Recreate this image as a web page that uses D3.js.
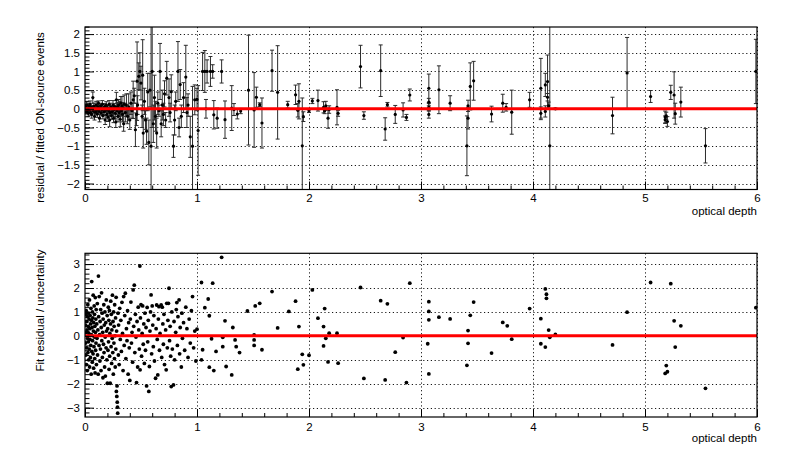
<!DOCTYPE html>
<html>
<head>
<meta charset="utf-8">
<script src="https://cdn.jsdelivr.net/npm/d3@7"></script>
<style>
  body { margin: 0; background: #fff; }
  svg text { font-family: "Liberation Sans", Arial, Helvetica, sans-serif; }
</style>
</head>
<body>
<script>
"use strict";

// ---- data ----

// ticks
const xTicks = [0, 1, 2, 3, 4, 5, 6];
const topYTicks = [-2, -1.5, -1, -0.5, 0, 0.5, 1, 1.5, 2];
const bottomYTicks = [-3, -2, -1, 0, 1, 2, 3];

// top panel: [optical depth, residual / fitted, error]
const topNear = [
  [0.005,0.05,0.08],[0.01,-0.08,0.06],[0.015,0.1,0.1],[0.02,-0.05,0.05],[0.025,0.0,0.07],
  [0.03,-0.12,0.08],[0.035,0.08,0.06],[0.04,-0.02,0.05],[0.045,0.12,0.09],[0.05,-0.1,0.07],
  [0.055,0.04,0.05],[0.06,-0.15,0.1],[0.065,0.02,0.04],[0.07,0.3,0.15],[0.075,-0.06,0.06],
  [0.08,0.07,0.08],[0.085,-0.2,0.1],[0.09,0.0,0.05],[0.095,-0.09,0.07],[0.1,0.1,0.1],
  [0.105,-0.03,0.05],[0.11,-0.14,0.09],[0.115,0.05,0.06],[0.12,0.15,0.06],[0.125,-0.07,0.07],
  [0.13,-0.25,0.1],[0.135,0.02,0.05],[0.14,0.08,0.07],[0.145,-0.11,0.08],[0.15,-0.02,0.06],
  [0.155,0.12,0.1],[0.16,-0.18,0.09],[0.165,0.0,0.05],[0.17,-0.08,0.07],[0.175,0.06,0.08],
  [0.18,-0.3,0.12],[0.185,-0.04,0.06],[0.19,0.1,0.09],[0.195,-0.15,0.1],[0.2,0.03,0.06],
  [0.205,-0.22,0.12],[0.21,-0.05,0.07],[0.215,0.12,0.1],[0.22,-0.3,0.18],[0.225,-0.1,0.08],
  [0.23,0.05,0.1],[0.235,-0.18,0.1],[0.24,0.0,0.07],[0.245,-0.08,0.12],[0.25,0.1,0.12],
  [0.255,-0.25,0.12],[0.26,-0.02,0.1],[0.265,0.06,0.08],[0.27,-0.12,0.15],[0.275,-0.35,0.15],
  [0.28,0.24,0.2],[0.285,-0.05,0.1],[0.29,0.05,0.12],[0.295,-0.2,0.15],[0.3,0.1,0.15],
  [0.305,-0.1,0.12],[0.31,0.0,0.2],[0.315,-0.28,0.2],[0.32,0.15,0.18],[0.325,-0.05,0.1],
  [0.33,0.08,0.25],[0.335,-0.15,0.2],[0.34,0.02,0.15],[0.345,-0.4,0.2],[0.35,0.12,0.25],
  [0.36,-0.1,0.25],[0.37,0.1,0.3],[0.38,-0.2,0.2],[0.39,0.05,0.35],[0.4,-0.3,0.25],
  [0.41,0.15,0.3],[0.42,-0.05,0.2],[0.43,0.24,0.5],[0.44,0.35,0.2],[0.45,-0.56,0.45],
  [0.46,-0.15,0.3],[0.465,0.74,1.05],[0.47,0.1,0.25],[0.48,0.87,0.36],[0.49,1.0,0.5],
  [0.5,0.69,0.45],[0.51,-0.2,0.3],[0.515,0.9,0.95],[0.52,-0.65,0.4],[0.53,0.2,0.35],
  [0.54,-0.3,0.25],[0.55,-0.6,0.35],[0.56,0.45,0.5],[0.57,-0.9,0.6],[0.58,0.5,0.45],
  [0.59,-1.0,3.5],[0.6,1.0,1.5],[0.61,-0.4,0.5],[0.62,0.3,0.6],[0.63,-0.2,0.4],
  [0.64,-0.65,0.4],[0.65,0.15,0.3],[0.66,-0.05,0.15],[0.67,1.0,0.75],[0.68,-0.4,0.35],
  [0.69,0.1,0.4],[0.7,-0.15,0.3],[0.71,0.4,0.35],[0.72,-0.3,0.2],[0.73,0.82,0.45],
  [0.75,0.3,0.5],[0.76,-0.1,0.25],[0.77,0.46,0.45],[0.79,-1.0,0.3],[0.8,-0.3,0.4],
  [0.81,0.2,0.25],[0.83,1.0,0.8],[0.84,-0.5,0.25],[0.85,0.65,0.4],[0.86,-0.2,0.3],
  [0.88,0.3,0.4],[0.9,0.85,0.85],[0.91,-0.1,0.4],[0.92,0.1,0.3],[0.94,-0.75,0.55],
  [0.96,-1.0,1.6],[0.98,0.24,0.4],[1.0,0.25,0.3],[1.01,-0.58,1.2],[1.05,1.0,0.51],
  [1.07,1.0,0.56],[1.08,0.0,0.25],[1.09,1.0,0.31],[1.12,1.0,0.4],[1.14,1.0,0.18],
  [1.15,-0.16,0.38],[1.18,-0.25,0.27],[1.22,1.0,0.31],[1.25,-0.29,0.5],[1.31,0.02,0.6],
  [1.33,-0.02,0.16],[1.36,-0.14,0.13],[1.39,-0.06,0.07],[1.46,0.5,1.47]
];

const topFar = [
  [1.51,-0.03,1.0],[1.53,0.31,0.27],[1.56,0.11,0.05],[1.58,-0.38,0.67],[1.67,1.02,0.55],
  [1.72,0.44,1.25],[1.81,0.11,0.09],[1.88,0.375,0.26],[1.9,-0.04,0.18],[1.91,0.2,0.47],
  [1.94,-0.99,1.28],[1.95,-0.21,0.13],[2.0,-0.05,0.05],[2.03,0.21,0.07],[2.08,0.22,0.28],
  [2.13,0.04,0.15],[2.14,-0.05,0.08],[2.15,0.08,0.12],[2.17,-0.25,0.27],[2.18,-0.02,0.1],
  [2.25,0.04,0.47],[2.26,-0.12,0.08],[2.46,1.13,0.57],[2.49,-0.18,0.1],[2.64,1.02,0.69],
  [2.68,-0.54,0.3],[2.7,0.11,0.06],[2.77,-0.15,0.24],[2.84,-0.03,0.19],[2.87,-0.23,0.08],
  [2.9,0.37,0.16],[3.07,0.55,0.38],[3.07,0.18,0.1],[3.07,0.04,0.1],[3.07,-0.15,0.1],
  [3.16,0.51,0.64],[3.26,0.15,0.2],[3.41,-0.99,0.8],[3.42,-0.25,0.29],[3.42,0.08,0.15],
  [3.44,0.6,0.63],[3.47,0.75,0.52],[3.63,-0.14,0.21],[3.73,0.15,0.24],[3.76,0.04,0.1],
  [3.81,-0.09,0.59],[3.97,0.24,0.2],[4.07,0.55,0.8],[4.07,-0.12,0.17],[4.11,0.64,0.31],
  [4.11,-0.07,0.15],[4.13,0.73,0.71],[4.13,0.31,0.1],[4.14,0.08,0.1],[4.15,-0.99,4.0],
  [4.2,0.0,0.02],[4.71,-0.18,0.49],[4.84,0.96,0.95],[5.05,0.33,0.16],[5.18,-0.22,0.16],
  [5.18,-0.29,0.1],[5.19,-0.19,0.1],[5.2,-0.34,0.13],[5.23,0.44,0.19],[5.26,0.37,0.62],
  [5.27,-0.13,0.28],[5.32,0.18,0.4],[5.54,-0.99,0.46],[5.99,1.0,0.86]
];

// bottom panel: [optical depth, residual / uncertainty]
const bottomNear = [
  [0.003,0.45],[0.005,-0.3],[0.006,0.9],[0.008,-0.8],[0.01,0.15],[0.011,1.05],[0.013,-1.2],
  [0.014,0.6],[0.016,-0.5],[0.018,0.25],[0.02,-1.45],[0.021,0.8],[0.023,-0.1],[0.025,1.3],
  [0.026,-0.7],[0.028,0.4],[0.03,-0.25],[0.031,0.95],[0.033,-1.0],[0.035,0.1],[0.036,0.7],
  [0.038,-0.55],[0.04,1.5],[0.041,-1.3],[0.043,0.3],[0.045,-0.15],[0.046,0.85],[0.048,-0.9],
  [0.05,0.5],[0.052,-0.4],[0.053,1.15],[0.055,-1.6],[0.057,0.05],[0.058,0.65],[0.06,2.27],
  [0.061,-0.65],[0.063,0.35],[0.065,-1.1],[0.066,1.0],[0.068,-0.2],[0.07,0.75],[0.072,-0.75],
  [0.073,1.7],[0.075,0.2],[0.077,-1.35],[0.078,0.55],[0.08,-0.45],[0.082,1.25],[0.083,-0.05],
  [0.085,0.9],[0.087,-0.95],[0.088,0.4],[0.09,-1.55],[0.092,1.6],[0.093,0.15],[0.095,-0.6],
  [0.097,0.7],[0.098,-0.3],[0.1,1.1],
  [0.102,-1.2],[0.105,0.5],[0.107,-0.1],[0.11,1.35],[0.112,-0.8],[0.115,0.25],[0.118,-1.6],
  [0.12,2.5],[0.122,0.8],[0.125,-0.4],[0.127,1.64],[0.13,0.05],[0.133,-1.05],[0.135,0.6],
  [0.138,-0.55],[0.14,1.1],[0.143,-1.45],[0.145,0.35],[0.148,1.8],[0.15,-0.2],[0.153,0.95],
  [0.155,-0.9],[0.158,0.15],[0.16,-1.75],[0.162,0.7],[0.165,-0.35],[0.168,1.3],[0.17,-0.7],
  [0.172,0.45],[0.175,-1.3],[0.178,1.0],[0.18,-0.05],[0.182,-1.68],[0.185,0.55],[0.188,-0.5],
  [0.19,1.5],[0.192,0.2],[0.195,-1.0],[0.198,0.85],
  [0.2,-1.98],[0.203,0.3],[0.205,-0.6],[0.208,1.2],[0.21,-0.25],[0.213,0.65],[0.215,-1.4],
  [0.218,1.06],[0.22,-0.85],[0.222,0.1],[0.225,-1.98],[0.228,0.5],[0.23,1.45],[0.233,-0.45],
  [0.235,0.9],[0.238,-1.15],[0.24,0.25],[0.243,-0.1],[0.245,1.7],[0.248,-0.7],[0.25,0.6],
  [0.253,-1.6],[0.255,1.0],[0.258,-0.3],[0.26,0.4],[0.263,-0.95],[0.265,1.3],[0.268,0.0],
  [0.27,-1.3],[0.273,0.75],[0.275,-0.55],[0.278,1.61],[0.28,-2.32],[0.282,0.2],[0.284,-2.53],
  [0.286,-2.09],[0.288,-2.77],[0.29,-2.98],[0.292,-3.23],[0.295,0.95],[0.298,-0.8],[0.3,0.45],
  [0.305,-1.2],[0.31,1.15],[0.315,-0.15],[0.32,0.65],[0.325,-0.65],[0.33,1.4],[0.335,0.1],
  [0.34,-1.45],[0.345,1.64],[0.35,-0.4],
  [0.355,0.85],[0.36,1.78],[0.365,-0.95],[0.37,0.3],[0.375,-0.2],[0.38,1.05],[0.385,-1.6],
  [0.39,0.55],[0.395,-0.5],[0.4,-1.86],[0.405,0.7],[0.41,1.41],[0.415,-0.3],[0.42,0.15],
  [0.425,-1.1],[0.43,1.92],[0.435,0.4],[0.44,2.12],[0.445,-0.7],[0.45,0.9],[0.455,-0.05],
  [0.46,-1.95],[0.465,0.6],[0.47,-1.3],[0.475,1.2],[0.48,0.25],[0.485,-0.55],[0.49,2.92],
  [0.492,-1.42],[0.495,0.75],[0.5,1.3],[0.505,-0.85],[0.51,0.1],[0.515,1.25],[0.52,-0.35],
  [0.525,0.5],[0.53,-1.15],[0.535,0.95],[0.54,-0.6],[0.545,0.35],[0.55,-2.09],
  [0.555,1.19],[0.56,-0.25],[0.565,0.65],[0.57,-2.32],[0.575,-1.28],[0.58,0.2],[0.585,1.0],
  [0.59,1.71],[0.595,-0.75],[0.6,1.25],[0.605,0.45],[0.61,-0.45],[0.615,0.85],[0.62,-1.05],
  [0.63,-1.77],[0.635,0.3],[0.64,1.29],[0.645,-0.15],[0.65,-1.63],[0.655,0.7],[0.66,1.22],
  [0.665,-0.6],[0.67,0.1],[0.68,1.29],[0.685,-0.9],[0.69,1.2],[0.695,0.5],[0.7,-0.35],
  [0.705,0.9],[0.71,-1.2],[0.72,0.25],[0.725,-1.42],[0.73,1.36],[0.735,-0.5],[0.74,0.65],
  [0.745,1.36],
  [0.75,1.99],[0.755,-0.2],[0.76,0.4],[0.765,-0.85],[0.77,-2.12],[0.775,1.0],[0.78,-0.55],
  [0.79,-2.05],[0.795,0.6],[0.8,-1.0],[0.81,0.15],[0.815,1.1],[0.82,1.39],[0.825,-0.4],
  [0.83,0.8],[0.84,1.5],[0.845,-0.75],[0.85,0.35],[0.86,-1.3],[0.865,0.95],[0.87,-0.1],
  [0.88,0.55],[0.89,-0.6],[0.9,1.2],[0.91,0.3],[0.92,-0.9],[0.93,0.7],[0.94,-0.3],
  [0.95,1.05],[0.96,1.64],[0.97,-0.5],[0.98,0.2],[0.99,-1.05],
  [1.0,0.28],[1.04,2.23],[1.04,-1.0],[1.05,-0.58],[1.07,1.18],[1.1,1.54],[1.11,0.84],
  [1.11,-1.31],[1.13,-0.12],[1.14,2.2],[1.15,-1.45],[1.17,-0.65],[1.22,3.28],[1.23,-0.06],
  [1.23,-0.45],[1.25,0.63],[1.26,-1.28],[1.31,-1.63],[1.32,0.35],[1.34,-0.17],[1.35,-0.45],
  [1.38,-0.7],[1.45,1.04],[1.51,0.04]
];

const bottomFar = [
  [1.51,-0.17],[1.51,-0.4],[1.52,1.25],[1.56,1.36],[1.58,-0.58],[1.67,1.85],[1.72,0.33],
  [1.82,1.02],[1.88,1.45],[1.9,-1.39],[1.91,0.39],[1.94,-0.77],[1.95,-1.21],[2.0,-0.81],
  [2.03,1.92],[2.08,0.74],[2.13,0.39],[2.14,1.14],[2.13,-0.42],[2.15,-0.1],[2.17,-1.09],
  [2.18,0.11],[2.25,0.11],[2.26,-1.14],[2.46,2.02],[2.49,-1.78],[2.64,1.47],[2.68,-1.84],
  [2.7,1.34],[2.77,-0.68],[2.84,-0.07],[2.87,-1.95],[2.9,2.2],[3.07,1.43],[3.07,1.02],
  [3.07,0.67],[3.06,-0.33],[3.07,-1.59],[3.16,0.78],[3.26,0.71],[3.41,-1.23],[3.42,-0.31],
  [3.42,0.22],[3.44,0.86],[3.47,1.41],[3.63,-0.72],[3.73,0.56],[3.77,0.42],[3.81,-0.14],
  [3.97,1.14],[4.07,0.72],[4.07,-0.33],[4.11,1.96],[4.12,1.74],[4.12,1.57],[4.11,-0.47],
  [4.14,0.24],[4.15,-0.06],[4.2,0.06],[4.71,-0.38],[4.84,0.99],[5.05,2.23],[5.18,-1.57],
  [5.19,-1.24],[5.2,-1.5],[5.23,2.18],[5.26,0.63],[5.27,-0.47],[5.32,0.42],[5.54,-2.19],
  [5.99,1.18]
];

// ---- layout ----
const W = 789, H = 455;
const fontSize = 11.5;
const minus = (v) => String(v).replace('-', '\u2212');

const svg = d3.select('body')
  .append('svg')
  .attr('width', W)
  .attr('height', H);

svg.append('rect').attr('width', W).attr('height', H).attr('fill', '#fff');

const panels = [
  { id: 'top', left: 85, right: 757, top: 27, bottom: 189.5,
    yDomain: [-2.16, 2.19], yTicks: topYTicks, yMinorStep: 0.1,
    yTitle: 'residual / fitted  ON-source events', yTitleY: 117.5,
    xPad: 4.5, xTitleY: 215 },
  { id: 'bot', left: 85, right: 757, top: 253.3, bottom: 417,
    yDomain: [-3.39, 3.45], yTicks: bottomYTicks, yMinorStep: 0.2,
    yTitle: 'Fit residual / uncertainty', yTitleY: 310.5,
    xPad: 5.5, xTitleY: 442 }
];

const range = (a, b, step) => {
  const out = [];
  const n = Math.round((b - a) / step);
  for (let i = 0; i <= n; i++) out.push(+(a + i * step).toFixed(4));
  return out;
};

panels.forEach((p) => {
  const x = d3.scaleLinear().domain([0, 6]).range([p.left, p.right]);
  const y = d3.scaleLinear().domain(p.yDomain).range([p.bottom, p.top]);
  p.x = x; p.y = y;

  const g = svg.append('g');

  svg.append('clipPath').attr('id', 'clip-' + p.id)
    .append('rect')
    .attr('x', p.left).attr('y', p.top)
    .attr('width', p.right - p.left).attr('height', p.bottom - p.top);

  // grid
  const grid = g.append('g')
    .attr('stroke', '#000')
    .attr('stroke-width', 1)
    .attr('stroke-dasharray', '1.2,2.6')
    .attr('opacity', 0.9);
  grid.selectAll('line.gx')
    .data(xTicks.filter((d) => d > 0))
    .enter().append('line')
    .attr('x1', (d) => Math.round(x(d)) + 0.5).attr('x2', (d) => Math.round(x(d)) + 0.5)
    .attr('y1', p.top).attr('y2', p.bottom);
  grid.selectAll('line.gy')
    .data(p.yTicks)
    .enter().append('line')
    .attr('x1', p.left).attr('x2', p.right)
    .attr('y1', (d) => Math.round(y(d)) + 0.5).attr('y2', (d) => Math.round(y(d)) + 0.5);

  p.plot = g.append('g').attr('clip-path', 'url(#clip-' + p.id + ')');
});

// ---- top panel: points with error bars ----
const pt = panels[0];
const topData = topNear.concat(topFar);
const eb = pt.plot.append('g').attr('stroke', '#2b2b2b').attr('stroke-width', 1);
eb.selectAll('line.bar')
  .data(topData)
  .enter().append('line')
  .attr('x1', (d) => pt.x(d[0])).attr('x2', (d) => pt.x(d[0]))
  .attr('y1', (d) => pt.y(d[1] + d[2])).attr('y2', (d) => pt.y(d[1] - d[2]));
['capHi', 'capLo'].forEach((k, j) => {
  eb.selectAll('line.' + k)
    .data(topData)
    .enter().append('line')
    .attr('x1', (d) => pt.x(d[0]) - 2).attr('x2', (d) => pt.x(d[0]) + 2)
    .attr('y1', (d) => pt.y(j === 0 ? d[1] + d[2] : d[1] - d[2]))
    .attr('y2', (d) => pt.y(j === 0 ? d[1] + d[2] : d[1] - d[2]));
});
pt.plot.append('g').selectAll('circle')
  .data(topData)
  .enter().append('circle')
  .attr('cx', (d) => pt.x(d[0])).attr('cy', (d) => pt.y(d[1]))
  .attr('r', 1.6).attr('fill', '#000');

// ---- bottom panel: points ----
const pb = panels[1];
pb.plot.append('g').selectAll('circle')
  .data(bottomNear.concat(bottomFar))
  .enter().append('circle')
  .attr('cx', (d) => pb.x(d[0])).attr('cy', (d) => pb.y(d[1]))
  .attr('r', 1.9).attr('fill', '#000');

// ---- zero lines, frame, axes, titles ----
panels.forEach((p) => {
  p.plot.append('line')
    .attr('x1', p.x(0)).attr('x2', p.x(6))
    .attr('y1', p.y(0)).attr('y2', p.y(0))
    .attr('stroke', '#ff0000').attr('stroke-width', 3);

  svg.append('rect')
    .attr('x', p.left).attr('y', p.top)
    .attr('width', p.right - p.left).attr('height', p.bottom - p.top)
    .attr('fill', 'none').attr('stroke', '#000').attr('stroke-width', 1.2);

  // x axis: major + minor ticks pointing inwards
  const xMajor = d3.axisBottom(p.x).tickValues(xTicks).tickSize(-8).tickPadding(p.xPad)
    .tickFormat(d3.format('d'));
  const xMinor = d3.axisBottom(p.x).tickValues(range(0, 6, 0.2)).tickSize(-4).tickFormat('');
  const yMajor = d3.axisLeft(p.y).tickValues(p.yTicks).tickSize(-9).tickPadding(5)
    .tickFormat((d) => minus(d));
  const yMinor = d3.axisLeft(p.y)
    .tickValues(range(Math.ceil(p.yDomain[0] / p.yMinorStep) * p.yMinorStep,
                      p.yDomain[1], p.yMinorStep))
    .tickSize(-4.5).tickFormat('');

  [[xMinor, 'x'], [xMajor, 'x'], [yMinor, 'y'], [yMajor, 'y']].forEach(([ax, t]) => {
    const a = svg.append('g')
      .attr('transform', t === 'x' ? 'translate(0,' + p.bottom + ')' : 'translate(' + p.left + ',0)')
      .call(ax);
    a.select('.domain').remove();
    a.selectAll('line').attr('stroke', '#000').attr('stroke-width', 1);
    a.selectAll('text')
      .attr('fill', '#000')
      .style('font-size', fontSize + 'px');
  });

  svg.append('text')
    .attr('x', p.right).attr('y', p.xTitleY)
    .attr('text-anchor', 'end')
    .style('font-size', fontSize + 'px')
    .text('optical depth');

  svg.append('text')
    .attr('transform', 'translate(44,' + p.yTitleY + ') rotate(-90)')
    .attr('text-anchor', 'middle')
    .style('font-size', fontSize + 'px')
    .text(p.yTitle);
});
</script>
</body>
</html>
